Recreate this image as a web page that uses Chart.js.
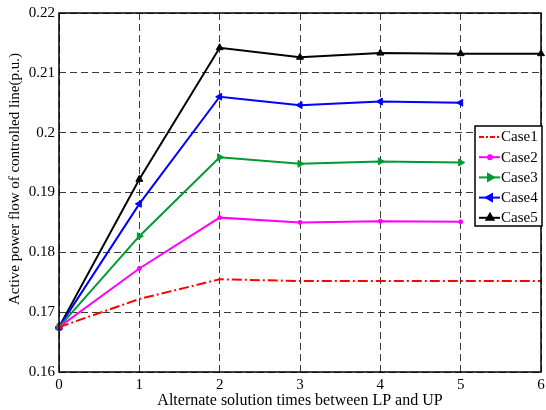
<!DOCTYPE html>
<html>
<head>
<meta charset="utf-8">
<script src="https://cdn.jsdelivr.net/npm/chart.js@4/dist/chart.umd.min.js"></script>
<style>
html,body{margin:0;padding:0;background:#fff;}
#wrap{position:relative;width:546px;height:410px;}
</style>
</head>
<body>
<div id="wrap"><canvas id="c" width="546" height="410"></canvas></div>
<script>
const xLabels = ['0','1','2','3','4','5','6'];
const yTicks = [0.16,0.17,0.18,0.19,0.2,0.21,0.22];
const seriesNames = ['Case1','Case2','Case3','Case4','Case5'];
const case1 = [0.1675,0.1722,0.1755,0.1752,0.1752,0.1752,0.1752];
const case2 = [0.1675,0.1773,0.1858,0.1850,0.1852,0.1851];
const case3 = [0.1675,0.1827,0.1959,0.1948,0.1952,0.1950];
const case4 = [0.1675,0.1881,0.2060,0.2046,0.2052,0.2050];
const case5 = [0.1675,0.1922,0.2142,0.2126,0.2133,0.2132,0.2132];
const xTitle = 'Alternate solution times between LP and UP';
const yTitle = 'Active power flow of controlled line(p.u.)';

const serif = '"Liberation Serif","Times New Roman",serif';

const styles = [
  {color:'#ff0000', dash:[10,3,2,3], point:false, rot:0},
  {color:'#ff00ff', dash:[], point:'circle', r:2, rot:0},
  {color:'#009933', dash:[], point:'triangle', r:4, rot:90},
  {color:'#0000ff', dash:[], point:'triangle', r:4, rot:-90},
  {color:'#000000', dash:[], point:'triangle', r:4, rot:0}
];
const allData = [case1,case2,case3,case4,case5];

const datasets = allData.map((d,i)=>{
  const s = styles[i];
  return {
    label: seriesNames[i],
    data: d,
    borderColor: s.color,
    backgroundColor: s.color,
    borderWidth: 2,
    borderDash: s.dash,
    pointStyle: s.point || 'circle',
    pointRadius: s.point ? s.r : 0,
    pointRotation: s.rot,
    pointBorderWidth: 1,
    pointBackgroundColor: s.color,
    pointBorderColor: s.color,
    tension: 0,
    fill: false
  };
});

const framePlugin = {
  id:'frame',
  afterDatasetsDraw(chart){
    const {ctx, chartArea:a} = chart;
    ctx.save();
    ctx.strokeStyle = '#000';
    ctx.lineWidth = 1.5;
    ctx.setLineDash([]);
    ctx.strokeRect(a.left, a.top, a.right-a.left, a.bottom-a.top);
    // y title
    ctx.save();
    ctx.translate(15, 179);
    ctx.rotate(-Math.PI/2);
    ctx.font = '15px ' + serif;
    ctx.fillStyle = '#000';
    ctx.textAlign = 'center';
    ctx.textBaseline = 'middle';
    ctx.fillText(yTitle, 0, 0);
    ctx.restore();
    // legend box
    const lx = 475, ly = 126, lw = 67, lh = 100;
    ctx.fillStyle = '#fff';
    ctx.fillRect(lx, ly, lw, lh);
    ctx.lineWidth = 1.5;
    ctx.strokeRect(lx, ly, lw, lh);
    ctx.font = '15px ' + serif;
    ctx.textBaseline = 'middle';
    ctx.textAlign = 'left';
    chart.data.datasets.forEach((ds,i)=>{
      const s = styles[i];
      const y = 137 + i*20.2;
      ctx.strokeStyle = s.color;
      ctx.lineWidth = 2;
      ctx.setLineDash(s.dash.length ? [5,2,2,2] : []);
      ctx.beginPath(); ctx.moveTo(479,y); ctx.lineTo(500,y); ctx.stroke();
      ctx.setLineDash([]);
      if (s.point) {
        Chart.helpers.drawPoint(ctx, {pointStyle:s.point, radius:s.r, rotation:s.rot, borderWidth:1}, 490, y);
        ctx.fillStyle = s.color;
        ctx.fill();
      }
      ctx.fillStyle = '#000';
      ctx.fillText(ds.label, 501, y+0.5);
    });
    ctx.restore();
  }
};

new Chart(document.getElementById('c'), {
  type:'line',
  data:{labels:xLabels, datasets},
  options:{
    responsive:false,
    animation:false,
    devicePixelRatio:1,
    layout:{padding:{top:13,right:2,left:0,bottom:0}},
    plugins:{legend:{display:false}, tooltip:{enabled:false}},
    scales:{
      x:{
        type:'category',
        offset:false,
        border:{display:false, dash:[7,4]},
        grid:{color:'#3a3a3a', lineWidth:1, drawTicks:false, offset:false},
        ticks:{color:'#000', font:{family:serif, size:15}, padding:4, maxRotation:0, autoSkip:false},
        title:{display:true, text:xTitle, color:'#000', font:{family:serif,size:16}, padding:{top:3,bottom:0}},
        afterFit(s){ s.height = 38; s.paddingLeft = 0; s.paddingRight = 0; }
      },
      y:{
        min:0.16, max:0.22,
        border:{display:false, dash:[7,4]},
        afterBuildTicks(s){ s.ticks = yTicks.map(v=>({value:v})); },
        grid:{color:'#3a3a3a', lineWidth:1, drawTicks:false},
        ticks:{color:'#000', font:{family:serif,size:15}, padding:4,
          callback:(v)=>String(Math.round(v*100)/100)},
        title:{display:false},
        afterFit(s){ s.width = 59; s.paddingTop = 0; s.paddingBottom = 0; }
      }
    }
  },
  plugins:[framePlugin]
});
</script>
</body>
</html>
